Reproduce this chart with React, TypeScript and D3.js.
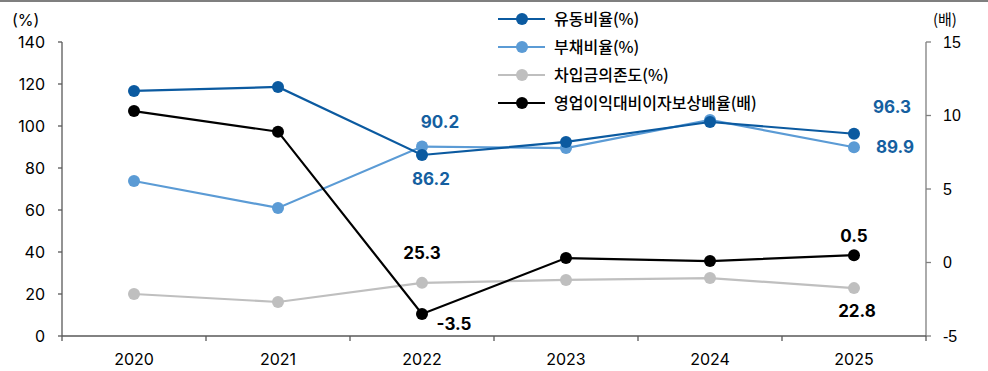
import React from "react";
import * as d3 from "d3";

const years = ["2020", "2021", "2022", "2023", "2024", "2025"];
const currentRatio = [116.7, 118.6, 86.2, 92.4, 101.9, 96.3];
const debtRatio = [73.8, 61.0, 90.2, 89.5, 102.9, 89.9];
const borrowingDep = [20.0, 16.2, 25.3, 26.7, 27.6, 22.8];
const interestCoverage = [10.3, 8.9, -3.5, 0.3, 0.1, 0.5];
const leftTicks = [0, 20, 40, 60, 80, 100, 120, 140];
const rightTicks = [-5, 0, 5, 10, 15];
const seriesNames = ["유동비율(%)", "부채비율(%)", "차입금의존도(%)", "영업이익대비이자보상배율(배)"];

const W = 988, H = 371;
const L = 62, R = 926, T = 42, B = 336;
const NUM = "Inter, 'Noto Sans', sans-serif";
const KR = "'Noto Sans CJK KR', 'Noto Sans', sans-serif";

export default function App() {
  const x = d3.scaleBand<string>().domain(years).range([L, R]);
  const cx = (i: number) => (x(years[i]) as number) + x.bandwidth() / 2;
  const yL = d3.scaleLinear().domain([0, 140]).range([B, T]);
  const yR = d3.scaleLinear().domain([-5, 15]).range([B, T]);

  const series = [
    { name: seriesNames[0], data: currentRatio, color: "#0b5aa0", y: yL },
    { name: seriesNames[1], data: debtRatio, color: "#5b9bd5", y: yL },
    { name: seriesNames[2], data: borrowingDep, color: "#bfbfbf", y: yL },
    { name: seriesNames[3], data: interestCoverage, color: "#000000", y: yR },
  ];
  const drawOrder = [2, 1, 0, 3];

  const labels = [
    { s: 1, i: 2, text: "90.2", dx: 18, dy: -25, color: "#155fa0" },
    { s: 0, i: 2, text: "86.2", dx: 9, dy: 24, color: "#155fa0" },
    { s: 2, i: 2, text: "25.3", dx: 0, dy: -30, color: "#000" },
    { s: 3, i: 2, text: "-3.5", dx: 32, dy: 10, color: "#000" },
    { s: 0, i: 5, text: "96.3", dx: 38, dy: -27, color: "#155fa0" },
    { s: 1, i: 5, text: "89.9", dx: 41, dy: 0, color: "#155fa0" },
    { s: 3, i: 5, text: "0.5", dx: 0, dy: -19, color: "#000" },
    { s: 2, i: 5, text: "22.8", dx: 3, dy: 23, color: "#000" },
  ];

  const legendY = [19, 47, 75, 103];

  return (
    <svg width={W} height={H} style={{ position: "absolute", left: 0, top: 0, background: "#fff" }}>
      <rect x={0} y={0} width={W} height={H} fill="#fff" />
      <line x1={0} x2={W} y1={1} y2={1} stroke="#7f7f7f" strokeWidth={2} />
      {/* left axis */}
      <line x1={L} x2={L} y1={T} y2={B} stroke="#595959" strokeWidth={1.3} />
      {leftTicks.map((t) => (
        <g key={"l" + t}>
          <line x1={L - 4} x2={L} y1={yL(t)} y2={yL(t)} stroke="#595959" strokeWidth={1.3} />
          <text x={45} y={yL(t)} dy="0.36em" textAnchor="end" fontFamily={NUM} fontSize={16} fill="#000">{t}</text>
        </g>
      ))}
      <text x={12} y={20} dy="0.36em" fontFamily={NUM} fontSize={16} fill="#000">(%)</text>
      {/* right axis */}
      <line x1={R} x2={R} y1={T} y2={B} stroke="#7f7f7f" strokeWidth={1.3} />
      {rightTicks.map((t) => (
        <g key={"r" + t}>
          <line x1={R} x2={R + 5} y1={yR(t)} y2={yR(t)} stroke="#7f7f7f" strokeWidth={1.3} />
          <text x={943} y={yR(t)} dy="0.36em" textAnchor="start" fontFamily="'Liberation Sans', Arial, sans-serif" fontSize={16} fill="#000">{t}</text>
        </g>
      ))}
      <text x={933} y={20} dy="0.36em" fontFamily={KR} fontSize={15} fill="#000">(배)</text>
      {/* x axis */}
      <line x1={L} x2={R} y1={B} y2={B} stroke="#595959" strokeWidth={1.3} />
      {years.map((yr, i) => (
        <g key={yr}>
          <line x1={x(yr) as number} x2={x(yr) as number} y1={B} y2={B + 5} stroke="#595959" strokeWidth={1.3} />
          <text x={cx(i)} y={359} dy="0.36em" textAnchor="middle" fontFamily={NUM} fontSize={16} fill="#000">{yr}</text>
        </g>
      ))}
      <line x1={R} x2={R} y1={B} y2={B + 5} stroke="#595959" strokeWidth={1.3} />
      {/* series */}
      {drawOrder.map((si) => {
        const s = series[si];
        const line = d3.line<number>().x((_, i) => cx(i)).y((d) => s.y(d));
        return (
          <g key={s.name}>
            <path d={line(s.data) || ""} fill="none" stroke={s.color} strokeWidth={2.2} />
            {s.data.map((d, i) => (
              <circle key={i} cx={cx(i)} cy={s.y(d)} r={6} fill={s.color} />
            ))}
          </g>
        );
      })}
      {labels.map((lb, k) => {
        const s = series[lb.s];
        return (
          <text key={k} x={cx(lb.i) + lb.dx} y={s.y(s.data[lb.i]) + lb.dy} dy="0.36em" textAnchor="middle"
            fontFamily={NUM} fontWeight={700} fontSize={17} fill={lb.color}>{lb.text}</text>
        );
      })}
      {/* legend */}
      {series.map((s, i) => (
        <g key={"lg" + i}>
          <line x1={498} x2={545} y1={legendY[i]} y2={legendY[i]} stroke={s.color} strokeWidth={2.2} />
          <circle cx={522} cy={legendY[i]} r={6} fill={s.color} />
          <text x={554} y={legendY[i]} dy="0.36em" fontFamily={KR} fontWeight={500} fontSize={16} fill="#000">{s.name}</text>
        </g>
      ))}
    </svg>
  );
}
